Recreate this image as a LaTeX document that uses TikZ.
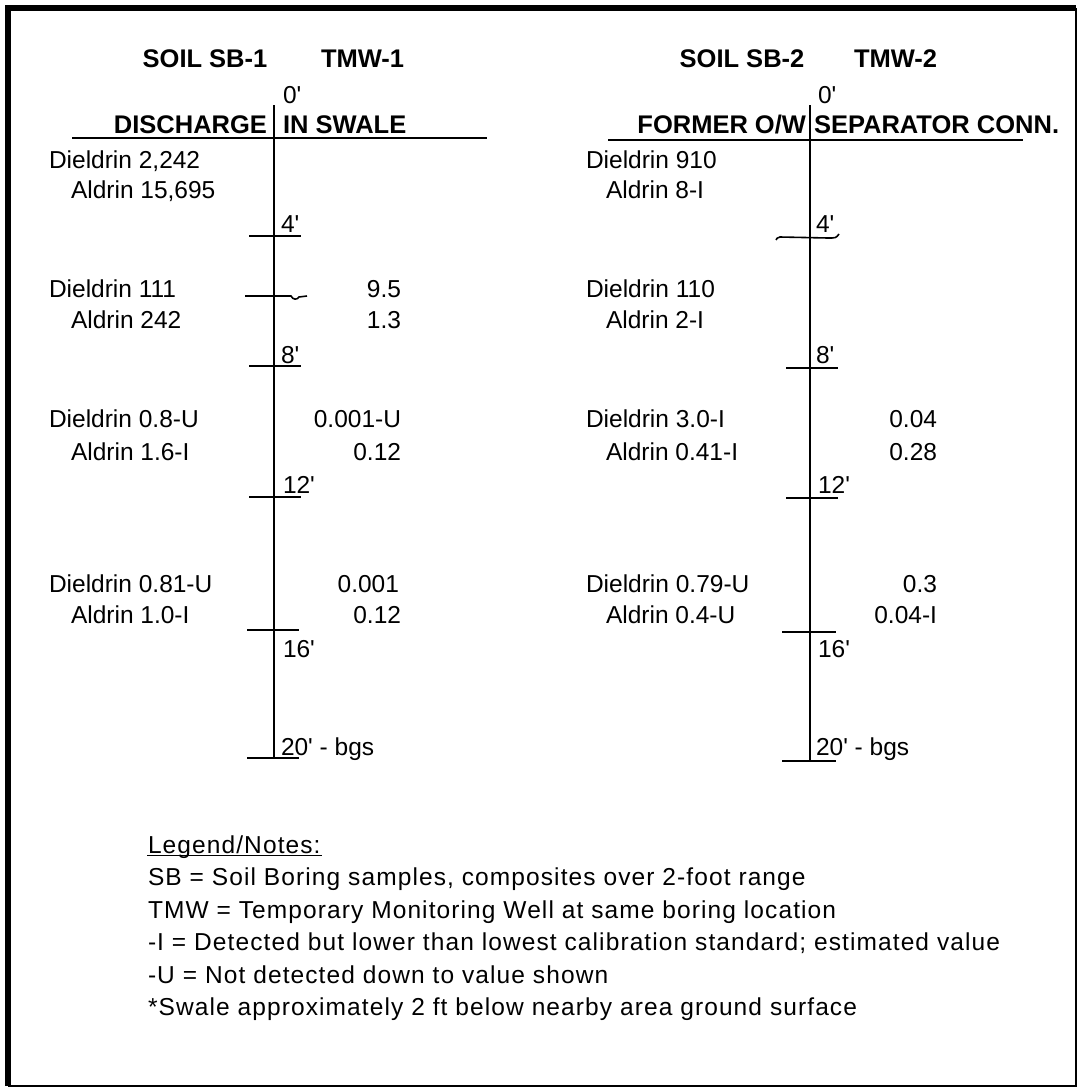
\documentclass[tikz,border=0pt]{standalone}
\usepackage{fontspec}
\setmainfont{Liberation Sans}[Ligatures=TeXOff]
\usetikzlibrary{positioning}

\begin{document}
\begin{tikzpicture}[x=1pt, y=-1pt, line width=2pt,
        txt/.style = {inner sep=0pt, font=\fontsize{24.5}{30}\selectfont},
        note/.style = {inner sep=0pt, anchor=base west, font=\fontsize{24.5}{30}\selectfont\addfontfeatures{LetterSpace=4.5}},
        head/.style = {inner sep=0pt, font=\bfseries\fontsize{25.5}{30}\selectfont},
        tickline/.style = {line width=1.6pt}]
    \useasboundingbox (0,0) rectangle (1078,1087);
    % frame
    \draw[line width=5.5pt] (8,1086) -- (8,8) -- (1076,8);
    \draw[line width=2.5pt] (8,1085.8) -- (1076,1085.8) -- (1076,8);

    % boring 1
    \node[head, anchor=base] (sb1) at (205,67) {SOIL SB-1};
    \node[head, anchor=base west] (tmw1) at (320,67) {TMW-1};
    \node[txt, anchor=base west] (top1) at (282,103) {0'};
    \node[head, anchor=base east] (loc1a) at (268,133) {DISCHARGE};
    \node[head, anchor=base west] (loc1b) at (282,133) {IN SWALE};
    \coordinate (well1top) at (274,105);
    \coordinate (well1bot) at (274,758);
    \draw (well1top) -- (well1bot);
    \draw (72,138) -- (487,138);
    \foreach \y/\a/\b in {236/249/301, 366/249/301, 497/249/301, 630/247/299, 758/247/299}
        \draw[tickline] (\a,\y) -- (\b,\y);
    \draw[tickline] (245,296) -- (291,296) .. controls (293,300) and (297,300) .. (299,297) -- (307,296);
    \node[txt, anchor=base west] (ft4a) at (280,232) {4'};
    \node[txt, anchor=base west] (ft8a) at (280,363) {8'};
    \node[txt, anchor=base west] (ft12a) at (282,493) {12'};
    \node[txt, anchor=base west] (ft16a) at (282,657) {16'};
    \node[txt, anchor=base west] (ft20a) at (280,755) {20' - bgs};

    \node[txt, anchor=base west] (diel1a) at (48,168) {Dieldrin 2,242};
    \node[txt, anchor=base west] (ald1a) at (70,198) {Aldrin 15,695};
    \node[txt, anchor=base west] (diel1b) at (48,297) {Dieldrin 111};
    \node[txt, anchor=base west] (ald1b) at (70,328) {Aldrin 242};
    \node[txt, anchor=base east] (wd1b) at (402,297) {9.5};
    \node[txt, anchor=base east] (wa1b) at (402,328) {1.3};
    \node[txt, anchor=base west] (diel1c) at (48,427) {Dieldrin 0.8-U};
    \node[txt, anchor=base west] (ald1c) at (70,460) {Aldrin 1.6-I};
    \node[txt, anchor=base east] (wd1c) at (402,427) {0.001-U};
    \node[txt, anchor=base east] (wa1c) at (402,460) {0.12};
    \node[txt, anchor=base west] (diel1d) at (48,592) {Dieldrin 0.81-U};
    \node[txt, anchor=base west] (ald1d) at (70,623) {Aldrin 1.0-I};
    \node[txt, anchor=base east] (wd1d) at (400,592) {0.001};
    \node[txt, anchor=base east] (wa1d) at (402,623) {0.12};

    % boring 2
    \node[head, anchor=base] (sb2) at (742,67) {SOIL SB-2};
    \node[head, anchor=base west] (tmw2) at (853,67) {TMW-2};
    \node[txt, anchor=base west] (top2) at (817,103) {0'};
    \node[head, anchor=base east] (loc2a) at (807,133) {FORMER O/W};
    \node[head, anchor=base west] (loc2b) at (813,133) {SEPARATOR CONN.};
    \coordinate (well2top) at (810,105);
    \coordinate (well2bot) at (810,760);
    \draw (well2top) -- (well2bot);
    \draw (608,140) -- (1023,140);
    \foreach \y/\a/\b in {368/786/838, 498/786/838, 632/782/836, 761/782/836}
        \draw[tickline] (\a,\y) -- (\b,\y);
    \draw[tickline] (776,240) .. controls (777,238) .. (780,237) -- (828,238) .. controls (836,238) .. (839,234);
    \node[txt, anchor=base west] (ft4b) at (815,232) {4'};
    \node[txt, anchor=base west] (ft8b) at (815,363) {8'};
    \node[txt, anchor=base west] (ft12b) at (817,493) {12'};
    \node[txt, anchor=base west] (ft16b) at (817,657) {16'};
    \node[txt, anchor=base west] (ft20b) at (815,755) {20' - bgs};

    \node[txt, anchor=base west] (diel2a) at (585,168) {Dieldrin 910};
    \node[txt, anchor=base west] (ald2a) at (605,198) {Aldrin 8-I};
    \node[txt, anchor=base west] (diel2b) at (585,297) {Dieldrin 110};
    \node[txt, anchor=base west] (ald2b) at (605,328) {Aldrin 2-I};
    \node[txt, anchor=base west] (diel2c) at (585,427) {Dieldrin 3.0-I};
    \node[txt, anchor=base west] (ald2c) at (605,460) {Aldrin 0.41-I};
    \node[txt, anchor=base east] (wd2c) at (938,427) {0.04};
    \node[txt, anchor=base east] (wa2c) at (938,460) {0.28};
    \node[txt, anchor=base west] (diel2d) at (585,592) {Dieldrin 0.79-U};
    \node[txt, anchor=base west] (ald2d) at (605,623) {Aldrin 0.4-U};
    \node[txt, anchor=base east] (wd2d) at (938,592) {0.3};
    \node[txt, anchor=base east] (wa2d) at (938,623) {0.04-I};

    % legend
    \node[note] (leg0) at (147,853) {Legend/Notes:};
    \draw[line width=1.4pt] ([yshift=-2.5pt]leg0.base west) -- ([yshift=-2.5pt]leg0.base east);
    \node[note] (leg1) at (147,885) {SB = Soil Boring samples, composites over 2-foot range};
    \node[note] (leg2) at (147,918) {TMW = Temporary Monitoring Well at same boring location};
    \node[note] (leg3) at (147,950) {-I = Detected but lower than lowest calibration standard; estimated value};
    \node[note] (leg4) at (147,983) {-U = Not detected down to value shown};
    \node[note] (leg5) at (147,1015) {*Swale approximately 2 ft below nearby area ground surface};
\end{tikzpicture}
\end{document}
